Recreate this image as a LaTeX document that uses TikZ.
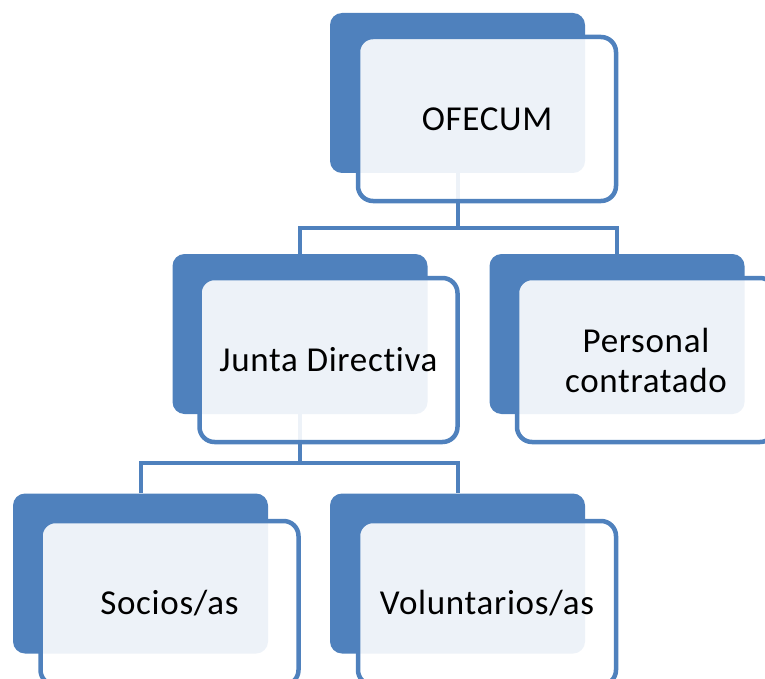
\documentclass[tikz,border=0pt]{standalone}
\usepackage{fontspec}
\setmainfont[LetterSpace=2,RawFeature={-liga;-clig;-calt;-dlig}]{Carlito}
\definecolor{obl}{HTML}{4F81BD}
\begin{document}
\begin{tikzpicture}[x=1pt,y=-1pt,
  backbox/.style={rounded corners=12pt, fill=obl, draw=none, minimum width=255pt, minimum height=160pt, inner sep=0pt},
  frontbox/.style={rounded corners=15pt, fill=white, fill opacity=0.9, text opacity=1, draw=obl, draw opacity=1, line width=4.5pt, minimum width=258pt, minimum height=164pt, inner sep=0pt, align=center, font=\fontsize{35}{40}\selectfont},
  conn/.style={draw=obl, line width=4pt}]
\useasboundingbox (0,0) rectangle (765,679);
% back boxes
\node[backbox] (ofb) at (457.5,93) {};
\node[backbox] (jdb) at (300,334) {};
\node[backbox] (pcb) at (617,334) {};
\node[backbox] (sob) at (140.5,573.5) {};
\node[backbox] (vob) at (457.5,573.5) {};
% connectors
\coordinate (h1) at (457.5,228);
\coordinate (h2) at (300,463);
\draw[conn] (ofb.south) -- (h1);
\draw[conn] (jdb.north) |- (h1) -| (pcb.north);
\draw[conn] (jdb.south) -- (h2);
\draw[conn] (sob.north) |- (h2) -| (vob.north);
% front boxes
\node[frontbox] (of) at (487,119) {OFECUM};
\node[frontbox] (jd) at (328.5,360) {Junta Directiva};
\node[frontbox] (pc) at (646,360) {Personal\\contratado};
\node[frontbox] (so) at (169.5,603) {Socios/as};
\node[frontbox] (vo) at (487,603) {Voluntarios/as};
\end{tikzpicture}
\end{document}
